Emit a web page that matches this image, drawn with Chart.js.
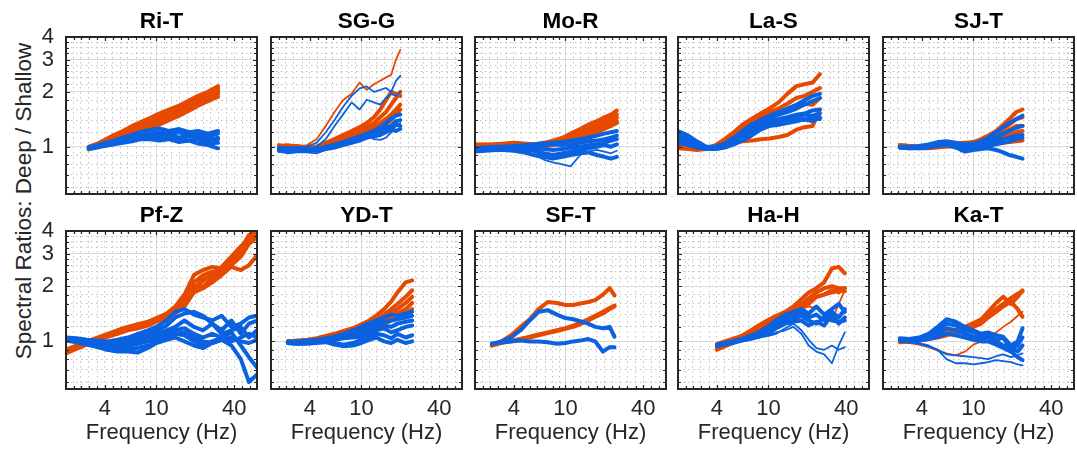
<!DOCTYPE html>
<html>
<head>
<meta charset="utf-8">
<script src="https://cdn.jsdelivr.net/npm/chart.js@4.4.1/dist/chart.umd.min.js"></script>
<style>
  html, body { margin: 0; padding: 0; background: #fff; width: 1077px; height: 449px; overflow: hidden; }
  .panel { position: absolute; }
  #ylab {
    position: absolute; left: 24px; top: 201px;
    transform: translate(-50%, -50%) rotate(-90deg);
    font: 22.5px "Liberation Sans", Arial, sans-serif; color: #262626;
    white-space: nowrap; line-height: 1;
  }
</style>
</head>
<body>
<div id="ylab">Spectral Ratios: Deep / Shallow</div>
<script>
// ---- data ----
const riT_freq = [3, 3.5, 4, 4.7, 5.5, 6.5, 7.5, 9, 10.5, 12.5, 15, 18, 21, 25, 30];
const riT_blue = [
  [0.99,1.02,1.05,1.08,1.12,1.16,1.2,1.24,1.26,1.22,1.25,1.2,1.22,1.18,1.22],
  [0.98,1.01,1.03,1.06,1.09,1.12,1.15,1.18,1.2,1.17,1.2,1.15,1.17,1.14,1.18],
  [0.98,1.0,1.02,1.04,1.06,1.09,1.11,1.14,1.13,1.16,1.12,1.15,1.1,1.12,1.1],
  [0.97,0.99,1.01,1.03,1.05,1.07,1.1,1.12,1.1,1.14,1.1,1.08,1.1,1.04,1.05],
  [0.98,1.0,1.02,1.04,1.06,1.08,1.1,1.1,1.08,1.1,1.06,1.08,1.04,1.02,0.98],
  [0.99,1.01,1.03,1.05,1.08,1.1,1.13,1.16,1.18,1.15,1.12,1.14,1.12,1.08,1.12]
];
const riT_orange = [
  [1.0,1.04,1.09,1.16,1.22,1.3,1.36,1.44,1.52,1.6,1.68,1.8,1.9,2.0,2.15],
  [0.98,1.03,1.07,1.13,1.2,1.26,1.32,1.4,1.48,1.55,1.65,1.75,1.86,1.98,2.1],
  [0.97,1.02,1.06,1.12,1.17,1.23,1.3,1.37,1.44,1.5,1.6,1.7,1.8,1.92,2.05],
  [0.98,1.01,1.04,1.09,1.14,1.2,1.25,1.31,1.38,1.46,1.55,1.64,1.74,1.85,1.95],
  [0.97,1.0,1.03,1.07,1.11,1.15,1.2,1.26,1.32,1.4,1.48,1.58,1.68,1.78,1.88],
  [0.99,1.02,1.05,1.1,1.15,1.22,1.28,1.34,1.42,1.5,1.58,1.67,1.77,1.9,2.0]
];

const sgG_freq = [2.3, 2.7, 3.2, 3.8, 4.5, 5.3, 6.2, 7.2, 8.4, 9.7, 11, 12.5, 14, 15.5, 17, 18.5, 20];
const sgG_blue = [
  [1.0,0.98,0.99,1.0,1.05,1.2,1.4,1.65,1.9,2.09,2.14,2.0,2.05,2.1,2.0,2.3,2.45],
  [0.95,0.93,0.95,0.97,1.0,1.1,1.3,1.5,1.75,1.6,1.81,1.75,1.7,1.85,1.95,1.9,2.0],
  [0.98,0.97,0.98,0.97,0.96,0.99,1.02,1.06,1.1,1.14,1.18,1.22,1.28,1.35,1.42,1.48,1.5],
  [0.96,0.97,0.96,0.95,0.96,0.98,1.0,1.04,1.08,1.1,1.14,1.18,1.22,1.28,1.3,1.38,1.4],
  [0.95,0.96,0.97,0.96,0.95,0.97,0.99,1.02,1.05,1.08,1.12,1.15,1.2,1.24,1.28,1.32,1.3],
  [0.97,0.98,0.97,0.96,0.97,1.0,1.03,1.05,1.06,1.1,1.13,1.14,1.16,1.2,1.24,1.22,1.25],
  [0.94,0.92,0.93,0.93,0.92,0.96,1.02,1.06,1.1,1.13,1.16,1.1,1.09,1.12,1.2,1.3,1.35]
];
const sgG_orange = [
  [1.0,1.0,1.0,1.02,1.1,1.3,1.55,1.8,1.95,2.25,2.05,2.2,2.3,2.4,2.48,3.0,3.4],
  [1.02,1.0,0.99,0.98,1.0,1.05,1.1,1.16,1.22,1.28,1.35,1.45,1.6,1.8,2.0,1.95,1.9],
  [1.0,1.01,1.0,0.98,0.99,1.04,1.09,1.14,1.18,1.22,1.28,1.35,1.45,1.55,1.7,1.85,2.0],
  [0.98,1.0,1.01,0.99,0.98,1.02,1.06,1.1,1.14,1.18,1.22,1.28,1.35,1.42,1.5,1.6,1.7],
  [1.01,1.02,1.0,0.99,0.98,1.0,1.04,1.08,1.12,1.15,1.18,1.22,1.28,1.33,1.4,1.5,1.6]
];

const moR_freq = [2, 2.4, 2.9, 3.4, 4, 4.8, 5.7, 6.8, 8, 9.5, 11, 13, 15, 17.5, 20, 22.5, 25];
const moR_blue = [
  [0.98,0.99,1.0,1.0,1.01,1.02,1.03,1.04,1.05,1.06,1.08,1.1,1.12,1.15,1.18,1.2,1.22],
  [0.97,0.98,0.99,1.0,1.0,1.01,1.02,1.02,1.03,1.02,1.03,1.05,1.07,1.08,1.1,1.12,1.15],
  [0.96,0.97,0.98,0.99,0.99,1.0,0.99,0.97,0.96,0.97,0.99,1.0,1.02,1.03,1.05,1.08,1.1],
  [0.95,0.96,0.97,0.98,0.98,0.97,0.95,0.92,0.9,0.92,0.94,0.96,0.98,1.0,1.02,1.0,1.03],
  [0.96,0.97,0.97,0.97,0.96,0.94,0.9,0.85,0.82,0.8,0.78,0.9,0.94,0.96,0.94,0.92,0.95],
  [0.94,0.95,0.96,0.96,0.95,0.93,0.9,0.88,0.86,0.88,0.9,0.92,0.93,0.9,0.88,0.86,0.88]
];
const moR_orange = [
  [1.03,1.02,1.03,1.04,1.05,1.04,1.03,1.05,1.08,1.12,1.18,1.25,1.32,1.38,1.45,1.5,1.58],
  [1.02,1.03,1.02,1.03,1.04,1.03,1.02,1.04,1.06,1.1,1.15,1.2,1.26,1.32,1.38,1.45,1.5],
  [1.01,1.02,1.03,1.02,1.03,1.02,1.01,1.02,1.04,1.07,1.12,1.17,1.22,1.28,1.34,1.38,1.44],
  [1.0,1.01,1.0,1.01,1.02,1.01,1.0,1.01,1.03,1.05,1.08,1.13,1.18,1.24,1.3,1.34,1.38],
  [1.02,1.0,1.01,1.02,1.01,1.0,0.99,1.0,1.02,1.04,1.06,1.1,1.15,1.2,1.25,1.3,1.35]
];

const laS_freq = [2, 2.4, 2.8, 3.3, 3.9, 4.6, 5.4, 6.3, 7.4, 8.7, 10.2, 12, 14, 16.5, 19, 22, 25];
const laS_blue = [
  [1.22,1.15,1.07,1.0,1.0,1.04,1.12,1.22,1.32,1.4,1.48,1.55,1.62,1.7,1.8,1.9,1.95],
  [1.18,1.12,1.05,0.99,0.99,1.03,1.1,1.2,1.3,1.38,1.45,1.5,1.55,1.62,1.7,1.78,1.85],
  [1.15,1.1,1.04,0.99,0.98,1.02,1.08,1.17,1.26,1.34,1.4,1.42,1.45,1.5,1.52,1.58,1.6],
  [1.12,1.07,1.02,0.98,0.98,1.01,1.06,1.14,1.22,1.3,1.35,1.38,1.4,1.45,1.5,1.48,1.52],
  [1.08,1.04,1.0,0.98,0.97,1.0,1.04,1.1,1.18,1.27,1.33,1.36,1.38,1.42,1.4,1.45,1.42],
  [1.05,1.02,0.99,0.97,0.97,0.99,1.03,1.08,1.15,1.24,1.3,1.32,1.35,1.38,1.42,1.38,1.45]
];
const laS_orange = [
  [1.0,0.99,0.98,0.98,1.02,1.1,1.2,1.32,1.42,1.52,1.62,1.75,1.95,2.15,2.2,2.25,2.5],
  [1.0,0.98,0.97,0.97,1.0,1.08,1.17,1.28,1.38,1.48,1.55,1.62,1.72,1.85,1.9,2.0,2.1],
  [0.99,0.98,0.97,0.97,1.01,1.09,1.18,1.3,1.4,1.47,1.5,1.55,1.58,1.65,1.72,1.7,1.85],
  [0.98,0.97,0.96,0.97,0.99,1.03,1.06,1.07,1.08,1.1,1.11,1.13,1.16,1.24,1.28,1.3,1.6]
];

const sjT_freq = [2.7, 3.2, 3.8, 4.5, 5.3, 6.2, 7.3, 8.6, 10, 11.5, 13, 15, 17, 19, 21.5, 24];
const sjT_blue = [
  [1.0,1.0,1.01,1.03,1.06,1.07,1.05,1.03,1.04,1.07,1.12,1.2,1.28,1.35,1.42,1.48],
  [1.0,0.99,1.0,1.02,1.05,1.06,1.04,1.01,1.02,1.05,1.08,1.12,1.18,1.22,1.27,1.3],
  [0.99,0.99,1.0,1.01,1.04,1.05,1.02,0.98,1.0,1.02,1.05,1.08,1.1,1.12,1.15,1.16],
  [0.99,0.98,0.99,1.0,1.02,1.03,1.0,0.95,0.97,0.99,1.01,1.03,1.05,1.07,1.1,1.12],
  [0.99,0.98,0.98,0.99,1.01,1.02,0.99,0.94,0.96,0.97,0.98,0.96,0.93,0.9,0.88,0.86]
];
const sjT_orange = [
  [1.02,1.01,1.0,1.0,1.02,1.03,1.04,1.05,1.06,1.1,1.15,1.22,1.32,1.42,1.55,1.6],
  [1.01,1.0,0.99,1.0,1.01,1.02,1.03,1.04,1.05,1.08,1.12,1.18,1.25,1.32,1.42,1.45],
  [1.02,1.01,0.99,0.99,1.0,1.02,1.03,1.02,1.04,1.06,1.1,1.14,1.18,1.24,1.3,1.3],
  [1.01,1.0,0.98,0.98,0.99,1.01,1.02,1.01,1.03,1.05,1.07,1.1,1.13,1.16,1.2,1.22],
  [1.0,1.0,0.99,0.99,1.0,1.0,1.01,1.02,1.03,1.04,1.05,1.06,1.05,1.06,1.07,1.08]
];

const pfZ_freq = [2, 2.4, 2.9, 3.5, 4.2, 5, 6, 7.2, 8.6, 10, 12, 14, 16.5, 19.5, 23, 27, 32, 38, 45, 52, 60];
const pfZ_blue = [
  [1.05,1.04,1.02,1.01,1.0,1.02,1.05,1.1,1.15,1.2,1.3,1.45,1.5,1.4,1.35,1.3,1.38,1.2,1.25,1.35,1.38],
  [1.04,1.03,1.01,1.0,0.99,1.0,1.03,1.07,1.12,1.15,1.22,1.35,1.42,1.45,1.38,1.25,1.15,1.3,1.1,1.25,1.3],
  [1.03,1.02,1.0,0.98,0.96,0.98,1.0,1.04,1.08,1.1,1.15,1.2,1.3,1.2,1.15,1.25,1.1,1.15,1.2,1.05,1.15],
  [1.02,1.01,0.99,0.96,0.94,0.95,0.97,1.0,1.05,1.08,1.1,1.15,1.18,1.1,1.05,1.1,1.05,1.0,1.05,1.1,1.05],
  [1.03,1.01,0.98,0.95,0.92,0.92,0.94,0.97,1.0,1.04,1.08,1.1,1.12,1.05,1.0,0.98,1.02,1.05,1.0,0.98,1.02],
  [1.02,1.0,0.97,0.94,0.9,0.89,0.9,0.92,0.95,1.0,1.05,1.1,1.08,1.0,0.96,1.0,1.05,1.12,0.95,0.82,0.72],
  [1.01,0.99,0.96,0.93,0.9,0.88,0.88,0.87,0.92,0.98,1.02,1.05,1.0,0.95,0.92,0.98,1.02,0.95,0.8,0.6,0.66]
];
const pfZ_orange = [
  [0.9,0.95,1.0,1.05,1.1,1.15,1.2,1.24,1.28,1.34,1.42,1.55,1.8,2.3,2.45,2.55,2.5,2.8,3.2,3.8,4.0],
  [0.88,0.93,0.98,1.03,1.08,1.13,1.18,1.22,1.26,1.32,1.4,1.5,1.7,2.1,2.3,2.4,2.45,2.7,3.0,3.6,3.9],
  [0.87,0.92,0.97,1.02,1.07,1.12,1.16,1.2,1.24,1.3,1.36,1.45,1.6,1.9,2.2,2.25,2.35,2.6,2.9,3.4,3.7],
  [0.89,0.94,0.99,1.04,1.09,1.14,1.19,1.23,1.27,1.33,1.38,1.48,1.65,2.0,2.0,2.2,2.4,2.75,3.1,3.5,3.9],
  [0.86,0.91,0.96,1.01,1.06,1.1,1.15,1.18,1.22,1.28,1.34,1.42,1.55,1.85,1.95,2.1,2.3,2.55,2.45,2.6,2.95],
  [0.9,0.94,0.99,1.04,1.08,1.12,1.17,1.21,1.25,1.31,1.37,1.46,1.58,1.95,2.15,2.3,2.55,2.9,3.3,3.6,3.8]
];

const ydT_freq = [2.7, 3.2, 3.8, 4.5, 5.3, 6.2, 7.3, 8.6, 10, 11.5, 13, 15, 17, 19, 22, 24.7];
const ydT_blue = [
  [1.0,1.0,1.01,1.02,1.04,1.06,1.1,1.15,1.2,1.26,1.3,1.35,1.4,1.38,1.42,1.45],
  [0.99,1.0,1.0,1.01,1.03,1.05,1.08,1.12,1.16,1.2,1.25,1.28,1.3,1.32,1.35,1.38],
  [0.99,0.99,1.0,1.0,1.02,1.04,1.06,1.08,1.1,1.15,1.2,1.22,1.2,1.25,1.28,1.3],
  [0.98,0.98,0.99,1.0,1.01,1.02,1.04,1.05,1.06,1.1,1.15,1.18,1.12,1.15,1.2,1.22],
  [0.98,0.97,0.98,0.99,1.0,0.98,0.96,0.98,1.02,1.06,1.1,1.08,1.04,1.1,1.05,1.08],
  [0.98,0.97,0.97,0.98,0.99,0.96,0.94,0.95,0.98,1.02,1.05,1.0,0.98,1.02,0.98,1.0]
];
const ydT_orange = [
  [1.0,1.01,1.02,1.04,1.07,1.1,1.14,1.18,1.24,1.3,1.38,1.5,1.65,1.85,2.1,2.15],
  [0.99,1.0,1.01,1.03,1.06,1.09,1.12,1.16,1.2,1.26,1.32,1.4,1.5,1.6,1.75,1.9],
  [1.0,1.0,1.01,1.02,1.04,1.07,1.1,1.13,1.18,1.22,1.28,1.35,1.42,1.5,1.62,1.75],
  [0.99,0.99,1.0,1.01,1.03,1.05,1.08,1.11,1.15,1.2,1.25,1.3,1.36,1.42,1.5,1.62],
  [1.0,0.99,1.0,1.0,1.02,1.04,1.06,1.09,1.12,1.16,1.2,1.24,1.3,1.35,1.42,1.5]
];

const sfT_freq = [2.7, 3.2, 3.8, 4.5, 5.3, 6.2, 7.3, 8.6, 10, 11.5, 13, 15, 17, 19.5, 22, 24];
const sfT_blue = [
  [0.97,1.0,1.05,1.15,1.3,1.45,1.48,1.4,1.34,1.32,1.29,1.25,1.2,1.18,1.2,1.06],
  [0.97,0.99,1.0,1.01,1.0,1.0,0.99,0.97,0.98,1.0,1.01,1.03,1.0,0.88,0.93,0.93]
];
const sfT_orange = [
  [0.95,1.0,1.08,1.2,1.32,1.5,1.64,1.62,1.58,1.58,1.61,1.64,1.68,1.8,1.95,1.78],
  [0.95,0.98,1.0,1.03,1.06,1.09,1.12,1.15,1.18,1.22,1.26,1.32,1.38,1.45,1.52,1.57],
  [0.96,0.99,1.01,1.03,1.05,1.08,1.11,1.14,1.17,1.2,1.24,1.3,1.36,1.42,1.5,1.55]
];

const haH_freq = [4, 4.6, 5.3, 6.2, 7.2, 8.4, 9.8, 11.5, 13.5, 15.6, 18, 20.5, 23.5, 27, 31, 35, 39];
const haH_blue = [
  [0.96,0.98,1.0,1.03,1.07,1.12,1.2,1.3,1.4,1.45,1.5,1.42,1.55,1.4,1.5,1.6,1.45],
  [0.95,0.97,0.99,1.02,1.05,1.1,1.17,1.25,1.35,1.38,1.45,1.35,1.4,1.3,1.45,1.35,1.5],
  [0.94,0.96,0.98,1.01,1.04,1.08,1.14,1.22,1.3,1.32,1.38,1.3,1.25,1.35,1.3,1.28,1.3],
  [0.95,0.97,0.99,1.01,1.03,1.06,1.1,1.18,1.25,1.28,1.3,1.22,1.28,1.22,1.4,1.25,1.35],
  [0.96,0.98,1.0,1.02,1.04,1.06,1.08,1.12,1.15,1.2,1.1,0.95,0.88,0.85,0.76,0.95,1.12],
  [0.95,0.97,0.99,1.01,1.03,1.05,1.07,1.1,1.18,1.25,1.15,1.02,0.92,0.9,0.95,0.9,0.93]
];
const haH_orange = [
  [0.95,0.99,1.03,1.07,1.14,1.22,1.3,1.38,1.45,1.55,1.7,1.85,1.95,2.1,2.5,2.55,2.35],
  [0.92,0.96,1.0,1.05,1.12,1.2,1.28,1.36,1.42,1.5,1.6,1.72,1.85,1.95,2.0,1.95,1.95],
  [0.9,0.94,0.98,1.04,1.1,1.18,1.25,1.32,1.4,1.48,1.55,1.65,1.75,1.8,1.85,1.9,1.88],
  [0.97,1.0,1.03,1.06,1.12,1.16,1.2,1.28,1.42,1.5,1.55,1.6,1.75,1.8,1.9,1.85,1.95],
  [0.89,0.93,0.97,1.02,1.08,1.15,1.22,1.3,1.38,1.45,1.5,1.55,1.52,1.4,1.3,1.6,1.9]
];

const kaT_freq = [2.7, 3.2, 3.8, 4.5, 5.3, 6.2, 7.3, 8.6, 10, 11.5, 13, 15, 17, 19.5, 22, 24];
const kaT_blue = [
  [1.04,1.03,1.05,1.1,1.2,1.32,1.28,1.2,1.15,1.1,1.12,1.08,1.06,0.95,1.0,1.18],
  [1.03,1.02,1.04,1.08,1.15,1.25,1.22,1.15,1.12,1.08,1.1,1.02,1.05,0.9,0.95,1.05],
  [1.02,1.01,1.02,1.05,1.1,1.18,1.15,1.1,1.06,1.04,1.05,1.0,0.95,0.92,0.88,0.95],
  [1.01,1.0,1.01,1.03,1.06,1.1,1.08,1.05,1.02,1.0,1.0,0.96,0.92,0.88,0.82,0.79],
  [1.0,0.99,0.98,0.95,0.9,0.8,0.76,0.76,0.75,0.76,0.77,0.79,0.78,0.77,0.75,0.74],
  [1.0,0.99,0.97,0.94,0.9,0.85,0.84,0.83,0.82,0.81,0.8,0.83,0.85,0.82,0.84,0.86]
];
const kaT_orange = [
  [1.0,1.01,1.03,1.05,1.08,1.12,1.16,1.2,1.26,1.32,1.45,1.62,1.75,1.6,1.75,1.9],
  [1.0,1.0,1.02,1.04,1.06,1.1,1.14,1.18,1.22,1.28,1.38,1.5,1.6,1.72,1.82,1.88],
  [0.99,1.0,1.01,1.03,1.05,1.08,1.12,1.15,1.2,1.25,1.35,1.45,1.55,1.65,1.5,1.36],
  [0.99,0.98,0.96,0.93,0.89,0.86,0.84,0.88,0.96,1.0,1.06,1.12,1.2,1.28,1.38,1.45]
];

const panelTitles = ['Ri-T', 'SG-G', 'Mo-R', 'La-S', 'SJ-T', 'Pf-Z', 'YD-T', 'SF-T', 'Ha-H', 'Ka-T'];
const panelData = [
  [riT_freq, riT_blue, riT_orange], [sgG_freq, sgG_blue, sgG_orange],
  [moR_freq, moR_blue, moR_orange], [laS_freq, laS_blue, laS_orange],
  [sjT_freq, sjT_blue, sjT_orange], [pfZ_freq, pfZ_blue, pfZ_orange],
  [ydT_freq, ydT_blue, ydT_orange], [sfT_freq, sfT_blue, sfT_orange],
  [haH_freq, haH_blue, haH_orange], [kaT_freq, kaT_blue, kaT_orange]
];

// axes
const xTickLabels = [4, 10, 40];
const yTickLabels = [1, 2, 3, 4];
const xMajorGrid = [10];
const yMajorGrid = [1, 2, 3];
const xGridVals = [2.3, 2.6, 3, 3.5, 4, 4.6, 5.3, 6, 7, 8, 9, 10, 11.5, 13, 15, 17.5, 20, 23, 26, 30, 35, 40, 46, 53];
const yGridVals = [0.6, 0.7, 0.8, 0.9, 1, 1.2, 1.4, 1.6, 1.8, 2, 2.2, 2.4, 2.6, 2.8, 3, 3.25, 3.5, 3.75, 4];

// styling (thin lines per panel, by series index)
const thinBlue = { 'SG-G': [0, 1, 6], 'Mo-R': [4], 'Ha-H': [4, 5], 'Ka-T': [4, 5] };
const thinOrange = { 'SG-G': [0], 'Ha-H': [4], 'Ka-T': [3] };
const BLUE = '#0a62e0', ORANGE = '#e64a00', INK = '#262626';
const FONT = '"Liberation Sans", Arial, sans-serif';

const COL_LEFT = [66, 271, 475, 678, 883];
const ROW_TOP = [37, 231];
const BOX_W = 191, BOX_H = [157, 158];
const PAD_L = 60, PAD_T = 37, PAD_R = 6;

const framePlugin = {
  id: 'frame',
  afterDatasetsDraw(chart) {
    const { ctx, chartArea: a, scales } = chart;
    ctx.save();
    // inward ticks on all four sides
    ctx.strokeStyle = INK;
    ctx.lineWidth = 1.2;
    ctx.beginPath();
    xGridVals.forEach(v => {
      const px = Math.round(scales.x.getPixelForValue(v)) + 0.5;
      const len = xMajorGrid.includes(v) || xTickLabels.includes(v) ? 4 : 3;
      ctx.moveTo(px, a.top); ctx.lineTo(px, a.top + len);
      ctx.moveTo(px, a.bottom); ctx.lineTo(px, a.bottom - len);
    });
    yGridVals.forEach(v => {
      const py = Math.round(scales.y.getPixelForValue(v)) + 0.5;
      const len = yMajorGrid.includes(v) ? 4 : 3;
      ctx.moveTo(a.left, py); ctx.lineTo(a.left + len, py);
      ctx.moveTo(a.right, py); ctx.lineTo(a.right - len, py);
    });
    ctx.stroke();
    ctx.lineWidth = 2;
    ctx.strokeRect(a.left, a.top, a.right - a.left, a.bottom - a.top);
    // panel title
    ctx.fillStyle = '#000';
    ctx.font = 'bold 22.5px ' + FONT;
    ctx.textAlign = 'center';
    ctx.textBaseline = 'alphabetic';
    ctx.fillText(chart.options.plugins.panelTitle, (a.left + a.right) / 2, a.top - 9);
    ctx.restore();
  }
};

panelTitles.forEach((title, i) => {
  const row = i < 5 ? 0 : 1;
  const col = i % 5;
  const bottomRow = row === 1;
  const xAxisH = bottomRow ? 60 : 0;
  const padB = bottomRow ? 0 : 6;
  const w = PAD_L + BOX_W + PAD_R;
  const h = PAD_T + BOX_H[row] + xAxisH + padB;

  const div = document.createElement('div');
  div.className = 'panel';
  div.style.left = (COL_LEFT[col] - PAD_L) + 'px';
  div.style.top = (ROW_TOP[row] - PAD_T) + 'px';
  const canvas = document.createElement('canvas');
  canvas.width = w; canvas.height = h;
  canvas.style.width = w + 'px'; canvas.style.height = h + 'px';
  div.appendChild(canvas);
  document.body.appendChild(div);

  const [freq, blue, orange] = panelData[i];
  const mk = (vals, color, thin) => ({
    data: vals.map((v, k) => ({ x: freq[k], y: v })),
    borderColor: color,
    borderWidth: thin ? 1.8 : 4,
    pointRadius: 0,
    tension: 0,
    fill: false,
    borderJoinStyle: 'round',
    borderCapStyle: 'round'
  });
  const datasets = [
    ...blue.map((s, k) => mk(s, BLUE, (thinBlue[title] || []).includes(k))),
    ...orange.map((s, k) => mk(s, ORANGE, (thinOrange[title] || []).includes(k)))
  ];

  const gridColor = (majors) => c => (c.tick && majors.includes(c.tick.value)) ? '#dadada' : '#c2c2c2';
  const gridDash = (majors) => c => (c.tick && !majors.includes(c.tick.value)) ? [1.5, 3.5] : [];
  const noPad = s => { s.paddingTop = 0; s.paddingBottom = 0; s.paddingLeft = 0; s.paddingRight = 0; };

  new Chart(canvas, {
    type: 'line',
    data: { datasets },
    options: {
      responsive: false,
      animation: false,
      devicePixelRatio: 1,
      layout: { padding: { left: 0, top: PAD_T, right: PAD_R, bottom: padB } },
      plugins: { legend: { display: false }, tooltip: { enabled: false }, panelTitle: title },
      scales: {
        x: {
          type: 'logarithmic', min: 2, max: 60,
          afterFit: s => { s.height = xAxisH; noPad(s); },
          afterBuildTicks: s => { s.ticks = xGridVals.map(v => ({ value: v })); },
          ticks: {
            display: bottomRow, autoSkip: false, maxRotation: 0, minRotation: 0, padding: 7,
            color: INK, font: { family: FONT, size: 22 },
            callback: v => xTickLabels.includes(v) ? String(v) : ''
          },
          grid: { color: gridColor(xMajorGrid), lineWidth: 1, drawTicks: false },
          border: { display: false, dash: gridDash(xMajorGrid) },
          title: {
            display: bottomRow, text: 'Frequency (Hz)', color: INK,
            font: { family: FONT, size: 22, lineHeight: 1.2 }, padding: { top: 0, bottom: 3 }
          }
        },
        y: {
          type: 'logarithmic', min: 0.55, max: 4,
          afterFit: s => { s.width = PAD_L; noPad(s); },
          afterBuildTicks: s => { s.ticks = yGridVals.map(v => ({ value: v })); },
          ticks: {
            display: col === 0, autoSkip: false, padding: 12,
            color: INK, font: { family: FONT, size: 22 },
            callback: v => yTickLabels.includes(v) ? String(v) : ''
          },
          grid: { color: gridColor(yMajorGrid), lineWidth: 1, drawTicks: false },
          border: { display: false, dash: gridDash(yMajorGrid) }
        }
      }
    },
    plugins: [framePlugin]
  });
});
</script>
</body>
</html>
